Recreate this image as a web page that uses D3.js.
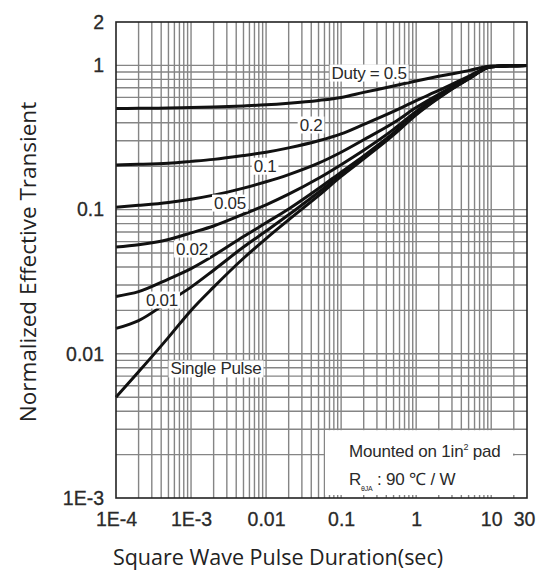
<!DOCTYPE html>
<html>
<head>
<meta charset="utf-8">
<script src="https://cdn.jsdelivr.net/npm/d3@7/dist/d3.min.js"></script>
<style>
  html, body { margin: 0; padding: 0; background: #fff; }
  svg { display: block; }
</style>
</head>
<body>
<svg id="chart" width="547" height="577"></svg>
<script>
// Pulse duration (s) at which each curve is sampled
const pulseTimes = [1e-4, 2e-4, 5e-4, 1e-3, 2e-3, 5e-3, 0.01, 0.02, 0.05, 0.1, 0.2, 0.5, 1, 2, 5, 10, 30];

// Normalized effective transient thermal impedance, one array per duty cycle
const duty05 = [0.503, 0.504, 0.506, 0.51, 0.515, 0.524, 0.533, 0.547, 0.572, 0.60, 0.65, 0.72, 0.78, 0.84, 0.92, 0.99, 1.0];
const duty02 = [0.204, 0.206, 0.21, 0.216, 0.223, 0.237, 0.25, 0.268, 0.30, 0.335, 0.39, 0.48, 0.57, 0.67, 0.84, 0.98, 1.0];
const duty01 = [0.104, 0.107, 0.112, 0.118, 0.126, 0.141, 0.156, 0.175, 0.21, 0.25, 0.305, 0.40, 0.51, 0.63, 0.82, 0.98, 1.0];
const duty005 = [0.055, 0.057, 0.062, 0.069, 0.077, 0.093, 0.108, 0.128, 0.165, 0.205, 0.258, 0.36, 0.48, 0.615, 0.815, 0.98, 1.0];
const duty002 = [0.025, 0.027, 0.033, 0.039, 0.048, 0.065, 0.081, 0.101, 0.14, 0.182, 0.236, 0.34, 0.465, 0.605, 0.81, 0.98, 1.0];
const duty001 = [0.015, 0.017, 0.023, 0.029, 0.038, 0.055, 0.071, 0.092, 0.132, 0.175, 0.23, 0.335, 0.46, 0.60, 0.808, 0.98, 1.0];
const singlePulse = [0.005, 0.0075, 0.013, 0.020, 0.029, 0.046, 0.063, 0.085, 0.125, 0.17, 0.225, 0.33, 0.455, 0.595, 0.805, 0.98, 1.0];

const seriesList = [duty05, duty02, duty01, duty005, duty002, duty001, singlePulse];

// Inline curve labels: text and the (time, value) point they are centred on
const curveLabels = ["Duty = 0.5", "0.2", "0.1", "0.05", "0.02", "0.01", "Single Pulse"];
const curveLabelTimes = [0.236, 0.0397, 0.0097, 0.0033, 0.00103, 0.00041, 0.00215];
const curveLabelValues = [0.885, 0.386, 0.2, 0.111, 0.0533, 0.0236, 0.00785];

// Axis ticks
const xTickValues = [1e-4, 1e-3, 0.01, 0.1, 1, 10, 30];
const xTickLabels = ["1E-4", "1E-3", "0.01", "0.1", "1", "10", "30"];
const yTickValues = [2, 1, 0.1, 0.01, 0.001];
const yTickLabels = ["2", "1", "0.1", "0.01", "1E-3"];

const svg = d3.select("#chart");
const W = 547, H = 577;
const margin = { left: 116, right: 20, top: 22, bottom: 79 };
const x0 = margin.left, x1 = W - margin.right;
const y0 = margin.top, y1 = H - margin.bottom;

const x = d3.scaleLog().domain([1e-4, 30]).range([x0, x1]);
const y = d3.scaleLog().domain([1e-3, 2]).range([y1, y0]);

svg.append("rect").attr("width", W).attr("height", H).attr("fill", "#fff");

// Log grid: every 1..9 multiple of each decade
const xGrid = [];
for (let e = -4; e <= 1; e++) for (let k = 1; k <= 9; k++) {
  const v = k * Math.pow(10, e);
  if (v > 1e-4 * 1.0001 && v < 30 * 0.9999) xGrid.push(v);
}
const yGrid = [];
for (let e = -3; e <= 0; e++) for (let k = 1; k <= 9; k++) {
  const v = k * Math.pow(10, e);
  if (v > 1e-3 * 1.0001 && v < 2 * 0.9999) yGrid.push(v);
}

const grid = svg.append("g").attr("stroke", "#858585").attr("stroke-width", 1.4);
grid.selectAll("line.v").data(xGrid).join("line")
  .attr("class", "v")
  .attr("x1", d => x(d)).attr("x2", d => x(d))
  .attr("y1", y0).attr("y2", y1);
grid.selectAll("line.h").data(yGrid).join("line")
  .attr("class", "h")
  .attr("x1", x0).attr("x2", x1)
  .attr("y1", d => y(d)).attr("y2", d => y(d));

// Mounting note box
const noteFont = "'Liberation Sans', Arial, sans-serif";
const note = svg.append("g");
note.append("rect")
  .attr("x", 325).attr("y", y(0.003) + 1)
  .attr("width", 188).attr("height", y1 - y(0.003) - 4)
  .attr("fill", "#fff");
note.append("rect")
  .attr("x", 512).attr("y", y(0.002) + 1)
  .attr("width", x1 - 512).attr("height", y1 - y(0.002) - 4)
  .attr("fill", "#fff");
note.append("rect")
  .attr("x", 512).attr("y", y(0.003) + 1)
  .attr("width", x1 - 512).attr("height", y(0.002) - y(0.003) - 2)
  .attr("fill", "#fff");
const t1 = note.append("text")
  .attr("x", 349).attr("y", 457)
  .attr("font-family", noteFont).attr("font-size", 17).attr("fill", "#2a2a2a")
  .attr("letter-spacing", -0.2);
t1.append("tspan").text("Mounted on 1in");
t1.append("tspan").attr("font-size", 9).attr("dy", -7).text("2");
t1.append("tspan").attr("dy", 7).text(" pad");
const t2 = note.append("text")
  .attr("x", 349).attr("y", 485)
  .attr("font-family", noteFont).attr("font-size", 17).attr("fill", "#2a2a2a")
  .attr("letter-spacing", -0.2);
t2.append("tspan").text("R");
t2.append("tspan").attr("font-size", 7).attr("dy", 6).text("θJA");
t2.append("tspan").attr("dy", -6).text(" : 90 ℃ / W");

// Curves
const line = d3.line()
  .x(d => x(d[0]))
  .y(d => y(d[1]))
  .curve(d3.curveMonotoneX);

svg.append("g").selectAll("path").data(seriesList).join("path")
  .attr("d", s => line(pulseTimes.map((t, i) => [t, s[i]])))
  .attr("fill", "none")
  .attr("stroke", "#111")
  .attr("stroke-width", 3)
  .attr("stroke-linejoin", "round");

// Curve labels with white backing
const labelG = svg.append("g");
curveLabels.forEach((txt, i) => {
  const cx = x(curveLabelTimes[i]), cy = y(curveLabelValues[i]);
  const g = labelG.append("g");
  const t = g.append("text")
    .attr("x", cx).attr("y", cy)
    .attr("text-anchor", "middle")
    .attr("dominant-baseline", "central")
    .attr("font-family", noteFont)
    .attr("font-size", 17)
    .attr("letter-spacing", -0.3)
    .attr("fill", "#2a2a2a")
    .text(txt);
  const b = t.node().getBBox();
  g.insert("rect", "text")
    .attr("x", b.x - 2).attr("y", b.y + 1)
    .attr("width", b.width + 4).attr("height", b.height - 2)
    .attr("fill", "#fff");
});

// Frame
svg.append("rect")
  .attr("x", x0).attr("y", y0)
  .attr("width", x1 - x0).attr("height", y1 - y0)
  .attr("fill", "none").attr("stroke", "#222").attr("stroke-width", 1.6);

// Axes
const tickFont = "'Liberation Sans', Arial, sans-serif";
const xAxis = d3.axisBottom(x)
  .tickValues(xTickValues)
  .tickFormat((d, i) => xTickLabels[i])
  .tickSize(0).tickPadding(14);
const gx = svg.append("g").attr("transform", `translate(0,${y1})`).call(xAxis);
gx.select(".domain").remove();
gx.selectAll("text")
  .attr("font-family", tickFont).attr("font-size", 19.5).attr("fill", "#2a2a2a")
  .attr("stroke", "#2a2a2a").attr("stroke-width", 0.3)
  .attr("dx", (d, i) => i === xTickValues.length - 1 ? -3 : 0);

const yAxis = d3.axisLeft(y)
  .tickValues(yTickValues)
  .tickFormat((d, i) => yTickLabels[i])
  .tickSize(0).tickPadding(12);
const gy = svg.append("g").attr("transform", `translate(${x0},0)`).call(yAxis);
gy.select(".domain").remove();
gy.selectAll("text")
  .attr("font-family", tickFont).attr("font-size", 19.5).attr("fill", "#2a2a2a")
  .attr("stroke", "#2a2a2a").attr("stroke-width", 0.3);

// Axis titles
const titleFont = "'Open Sans', 'Noto Sans', sans-serif";
svg.append("text")
  .attr("x", 278).attr("y", 565)
  .attr("text-anchor", "middle")
  .attr("font-family", titleFont).attr("font-size", 21.5).attr("fill", "#222")
  .text("Square Wave Pulse Duration(sec)");
svg.append("text")
  .attr("transform", `translate(36,262) rotate(-90)`)
  .attr("text-anchor", "middle")
  .attr("font-family", titleFont).attr("font-size", 22.5).attr("fill", "#222")
  .text("Normalized Effective Transient");
</script>
</body>
</html>
